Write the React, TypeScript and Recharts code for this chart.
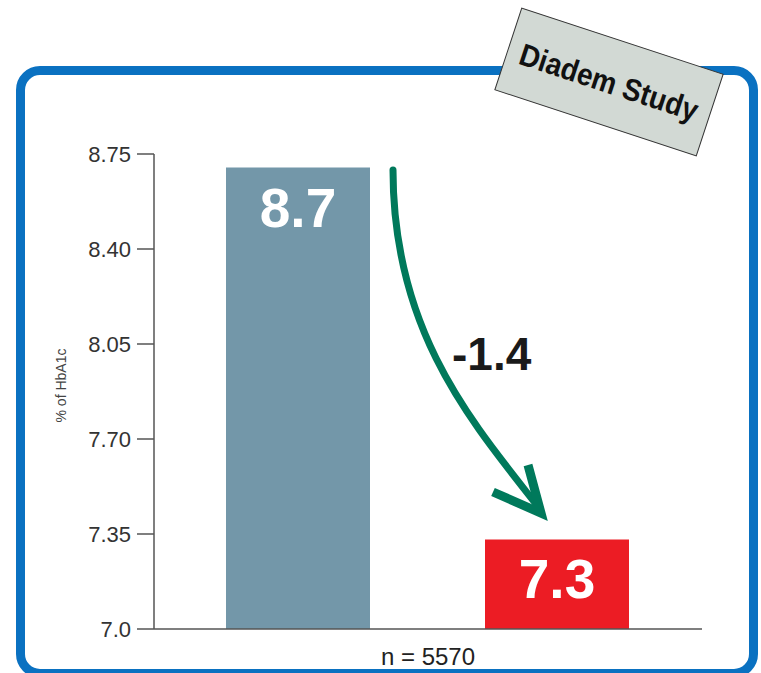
import { BarChart, Bar, XAxis, YAxis, Cell, LabelList, Label } from "recharts";

const categories = ["Baseline", "Follow-up"];
const hba1cValues = [8.7, 7.33];
const barColors = ["#7397a9", "#ec1c24"];
const yTicks = [7.0, 7.35, 7.7, 8.05, 8.4, 8.75];
const yTickLabels = ["7.0", "7.35", "7.70", "8.05", "8.40", "8.75"];
const changeLabel = "-1.4";
const studyName = "Diadem Study";
const sampleLabel = "n = 5570";
const yAxisTitle = "% of HbA1c";

const data = categories.map((name, i) => ({ name, value: hba1cValues[i] }));

const FONT = "'Liberation Sans', Arial, Helvetica, sans-serif";

const BarValue = (props: any) => {
  const { x, y, width, value } = props;
  return (
    <text
      x={x + width / 2}
      y={y + 59}
      textAnchor="middle"
      fill="#fff"
      fontSize={55}
      fontWeight="bold"
      fontFamily={FONT}
    >
      {Number(value).toFixed(1)}
    </text>
  );
};

const YTitle = (props: any) => {
  const { viewBox } = props;
  const cx = viewBox.x + 61;
  const cy = viewBox.y + viewBox.height / 2 - 6;
  return (
    <text
      x={cx}
      y={cy}
      transform={`rotate(-90 ${cx} ${cy})`}
      textAnchor="middle"
      dominantBaseline="central"
      fontSize={14}
      fill="#444"
      fontFamily={FONT}
    >
      {yAxisTitle}
    </text>
  );
};

export default function App() {
  return (
    <div style={{ position: "absolute", left: 0, top: 0, width: 761, height: 673, overflow: "hidden", background: "#fff" }}>
      <div
        style={{
          position: "absolute",
          left: 16,
          top: 66,
          width: 742,
          height: 612,
          boxSizing: "border-box",
          border: "9px solid #0a71c1",
          borderRadius: 24,
        }}
      />
      <div style={{ position: "absolute", left: 0, top: 0 }}>
        <BarChart
          width={761}
          height={673}
          data={data}
          margin={{ top: 154, right: 59, bottom: 25, left: 0 }}
          barCategoryGap={0}
        >
          <XAxis
            dataKey="name"
            tick={false}
            tickLine={false}
            height={19}
            padding={{ left: 14, right: 16 }}
            axisLine={{ stroke: "#555", strokeWidth: 1.5 }}
          >
            <Label
              value={sampleLabel}
              position="bottom"
              offset={0}
              style={{ fontSize: 24, fill: "#222", fontFamily: FONT }}
            />
          </XAxis>
          <YAxis
            width={154}
            domain={[7, 8.75]}
            ticks={yTicks}
            interval={0}
            tickSize={17}
            tickMargin={6}
            tickFormatter={(v: number) => yTickLabels[yTicks.indexOf(v)] ?? String(v)}
            tick={{ fontSize: 22, fill: "#333", fontFamily: FONT }}
            tickLine={{ stroke: "#555", strokeWidth: 1.5 }}
            axisLine={{ stroke: "#555", strokeWidth: 1.5 }}
          >
            <Label content={<YTitle />} />
          </YAxis>
          <Bar dataKey="value" barSize={144} isAnimationActive={false}>
            {data.map((_entry, index) => (
              <Cell key={`cell-${index}`} fill={barColors[index]} />
            ))}
            <LabelList dataKey="value" content={<BarValue />} />
          </Bar>
        </BarChart>
      </div>
      <svg
        width={761}
        height={673}
        style={{ position: "absolute", left: 0, top: 0, pointerEvents: "none" }}
      >
        <path
          d="M 393 170 C 393 330, 470 420, 536 504"
          fill="none"
          stroke="#00795b"
          strokeWidth={7}
          strokeLinecap="round"
        />
        <path
          d="M 493 492 L 541 513 L 528 465"
          fill="none"
          stroke="#00795b"
          strokeWidth={9}
          strokeLinejoin="miter"
          strokeLinecap="butt"
        />
        <text x={452} y={370} fontSize={46} fontWeight="bold" fill="#1a1a1a" fontFamily={FONT}>
          {changeLabel}
        </text>
        <g transform="translate(609 82) rotate(18.2)">
          <rect x={-106} y={-43} width={212} height={86} fill="#d2d9d4" stroke="#333" strokeWidth={1} />
          <text
            x={0}
            y={11}
            textAnchor="middle"
            fontSize={31}
            fontWeight="bold"
            fill="#111"
            fontFamily={FONT}
            textLength={186}
            lengthAdjust="spacingAndGlyphs"
          >
            {studyName}
          </text>
        </g>
      </svg>
    </div>
  );
}
